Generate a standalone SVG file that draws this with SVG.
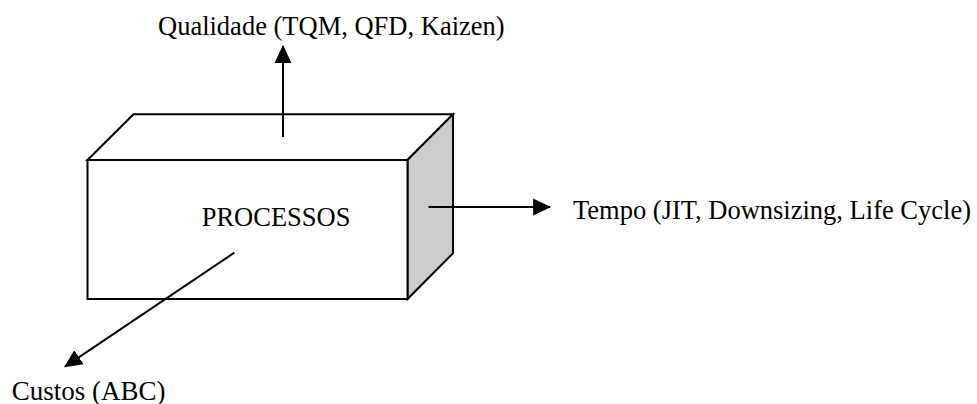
<svg xmlns="http://www.w3.org/2000/svg" width="977" height="404" viewBox="0 0 977 404">
  <style>
    .edge { stroke: #000; stroke-width: 2; stroke-linejoin: miter; }
    .white { fill: #fff; }
    .shade { fill: #cccccc; }
    .conn { fill: none; stroke: #000; stroke-width: 2; marker-end: url(#arrow); }
    .lbl { font-family: "Liberation Serif", "Times New Roman", serif; font-size: 26.5px; fill: #000; }
  </style>
  <defs>
    <marker id="arrow" markerUnits="userSpaceOnUse" markerWidth="18" markerHeight="18" viewBox="0 0 16 16" refX="15" refY="8" orient="auto">
      <path d="M0,0.5 L16,8 L0,15.5 Z" fill="#000"/>
    </marker>
  </defs>
  <rect width="977" height="404" fill="#fff"/>

  <g id="processos">
    <polygon class="edge white" points="87.5,160 133.5,114.3 453,114.3 407.5,160"/>
    <polygon class="edge shade" points="407.5,160 453,114.3 453,253.3 407.5,299"/>
    <rect class="edge white" x="87.5" y="160" width="320" height="139"/>
    <text class="lbl" x="201.7" y="226">PROCESSOS</text>
  </g>

  <g id="qualidade">
    <text class="lbl" x="158" y="35">Qualidade (TQM, QFD, Kaizen)</text>
  </g>

  <g id="tempo">
    <text class="lbl" x="573" y="218.5">Tempo (JIT, Downsizing, Life Cycle)</text>
  </g>

  <g id="custos">
    <text class="lbl" x="11.7" y="399.5" style="font-size:27px">Custos (ABC)</text>
  </g>

  <g id="connectors">
    <line class="conn" x1="283" y1="137" x2="283" y2="46"/>
    <line class="conn" x1="428.5" y1="207" x2="550" y2="207"/>
    <line class="conn" x1="234.3" y1="252.7" x2="65" y2="366.7"/>
  </g>
</svg>
